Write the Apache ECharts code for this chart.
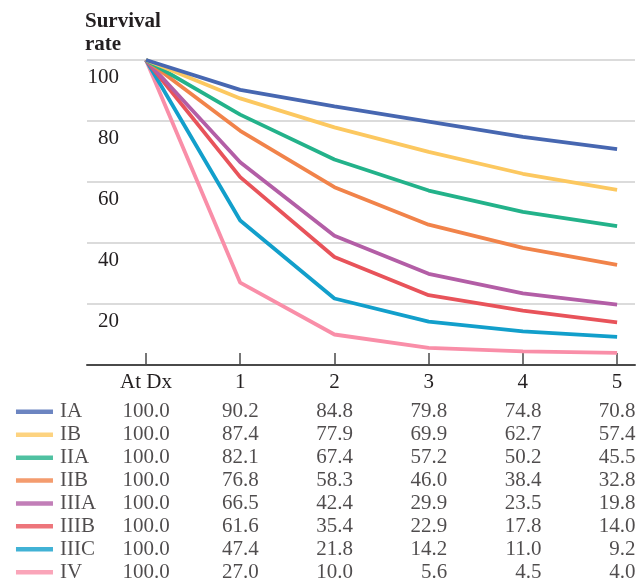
<!DOCTYPE html>
<html>
<head>
<meta charset="utf-8">
<script src="https://cdn.jsdelivr.net/npm/echarts@6/dist/echarts.min.js"></script>
<style>html,body{margin:0;padding:0;background:#fff;}#c{width:639px;height:579px;}</style>
</head>
<body>
<div id="c"></div>
<script>
var categories = ['At Dx', '1', '2', '3', '4', '5'];
var yTicks = [20, 40, 60, 80, 100];
var stages = ['IA', 'IB', 'IIA', 'IIB', 'IIIA', 'IIIB', 'IIIC', 'IV'];
var IA   = [100.0, 90.2, 84.8, 79.8, 74.8, 70.8];
var IB   = [100.0, 87.4, 77.9, 69.9, 62.7, 57.4];
var IIA  = [100.0, 82.1, 67.4, 57.2, 50.2, 45.5];
var IIB  = [100.0, 76.8, 58.3, 46.0, 38.4, 32.8];
var IIIA = [100.0, 66.5, 42.4, 29.9, 23.5, 19.8];
var IIIB = [100.0, 61.6, 35.4, 22.9, 17.8, 14.0];
var IIIC = [100.0, 47.4, 21.8, 14.2, 11.0, 9.2];
var IV   = [100.0, 27.0, 10.0, 5.6, 4.5, 4.0];
var values = [IA, IB, IIA, IIB, IIIA, IIIB, IIIC, IV];
var colors = ['#4767b1', '#fcc860', '#23b28a', '#f1834a', '#b35ea6', '#e8535a', '#129fcb', '#f98ea8'];

var FONT = 'Liberation Serif';
var TXT = '#231f20';
var xMin = -0.626, xMax = 5.19;
var tMin = -1.55;          // table grid starts at the left edge of the page
var legendX = -1.184;      // x (in table units) of the legend key column
var idx = categories.map(function (c, i) { return i; });

var series = [];
stages.forEach(function (s, k) {
  series.push({
    name: s, type: 'line', xAxisIndex: 0, yAxisIndex: 0,
    data: values[k].map(function (v, i) { return [i, v]; }),
    showSymbol: false, symbol: 'none',
    lineStyle: { color: colors[k], width: 3.8 },
    itemStyle: { color: colors[k] },
    z: 10 - k
  });
});
var cells = [];
stages.forEach(function (s, k) {
  values[k].forEach(function (v, i) {
    cells.push({
      value: [i, k, v],
      label: i === 0 ? { align: 'center', offset: [0, 0] } : { align: 'right', offset: [18.5, 0] }
    });
  });
});
series.push({
  name: 'table', type: 'scatter', xAxisIndex: 1, yAxisIndex: 1,
  symbolSize: 0.1, data: cells, silent: true, clip: false,
  itemStyle: { color: 'transparent' },
  label: {
    show: true, position: 'inside', color: TXT, fontFamily: FONT, fontSize: 21,
    formatter: function (p) { return p.value[2].toFixed(1); }
  }
});
series.push({
  name: 'keys', type: 'scatter', xAxisIndex: 1, yAxisIndex: 1,
  symbol: 'rect', symbolSize: [37, 4.5], silent: true, clip: false,
  data: stages.map(function (s, k) {
    return { value: [legendX, k], name: s, itemStyle: { color: colors[k] } };
  }),
  label: {
    show: true, position: 'right', distance: 7, color: TXT, fontFamily: FONT, fontSize: 21,
    formatter: function (p) { return p.name; }
  }
});

var chart = echarts.init(document.getElementById('c'), null, { renderer: 'canvas' });
chart.setOption({
  animation: false,
  backgroundColor: '#fff',
  title: {
    text: 'Survival\nrate', left: 85, top: 10, padding: 0,
    textStyle: { fontFamily: FONT, fontWeight: 'bold', fontSize: 21, lineHeight: 23, color: TXT }
  },
  grid: [
    { left: 87, right: 4, top: 60, bottom: 214 },
    { left: 0, right: 4, top: 411.8, bottom: 6.8 }
  ],
  xAxis: [
    {
      type: 'value', gridIndex: 0, min: xMin, max: xMax,
      axisLine: { show: true, onZero: false, lineStyle: { color: '#4a4a4a', width: 2 } },
      axisTick: { show: true, inside: true, length: 12, customValues: idx, lineStyle: { color: '#4a4a4a', width: 1.5 } },
      axisLabel: {
        show: true, customValues: idx, margin: 7, fontFamily: FONT, fontSize: 21, color: TXT,
        formatter: function (v) { return categories[Math.round(v)]; }
      },
      splitLine: { show: false }
    },
    {
      type: 'value', gridIndex: 1, min: tMin, max: xMax, show: false
    }
  ],
  yAxis: [
    {
      type: 'value', gridIndex: 0, min: 0, max: 100, interval: 20,
      axisLine: { show: false }, axisTick: { show: false },
      axisLabel: {
        show: true, inside: true, margin: 32, align: 'right', verticalAlign: 'top',
        padding: [7, 0, 0, 0], fontFamily: FONT, fontSize: 21, color: TXT,
        formatter: function (v) { return yTicks.indexOf(v) >= 0 ? String(v) : ''; }
      },
      splitLine: { show: true, lineStyle: { color: '#cfcfcf', width: 1.5 } }
    },
    {
      type: 'value', gridIndex: 1, min: 0, max: 7, inverse: true, show: false
    }
  ],
  series: series
});
</script>
</body>
</html>
